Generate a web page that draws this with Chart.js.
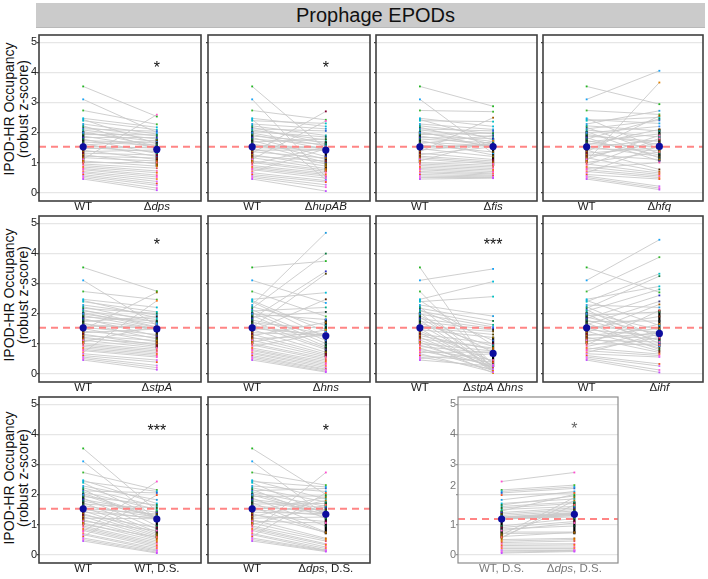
<!DOCTYPE html>
<html>
<head>
<meta charset="utf-8">
<script src="https://cdn.jsdelivr.net/npm/chart.js@4.4.1/dist/chart.umd.min.js"></script>
<style>
  body { margin: 0; background: #fff; width: 708px; height: 579px; position: relative; overflow: hidden;
         font-family: "Liberation Sans", Arial, sans-serif; }
  #banner { position: absolute; left: 36px; top: 3px; width: 669px; height: 24px; background: #cbcbcb;
            border-bottom: 1px solid #b9b9b9; text-align: center; font-size: 20px; line-height: 25px;
            color: #111; text-indent: 10px; }
  .ytitle { position: absolute; left: 16px; width: 0; height: 0; }
  .ytitle div { position: absolute; transform: translate(-50%, -50%) rotate(-90deg); white-space: nowrap;
                text-align: center; font-size: 14px; line-height: 14px; color: #111; }
  canvas { position: absolute; }
</style>
</head>
<body>
<div id="banner">Prophage EPODs</div>
<div class="ytitle" style="top:109px"><div>IPOD-HR Occupancy<br>(robust z-score)</div></div>
<div class="ytitle" style="top:295px"><div>IPOD-HR Occupancy<br>(robust z-score)</div></div>
<div class="ytitle" style="top:478px"><div>IPOD-HR Occupancy<br>(robust z-score)</div></div>

<script>
// valores por locus (mismo orden en todas las series)
const wt = [3.53, 3.10, 2.73, 2.47, 2.43, 2.39, 2.28, 2.22, 2.17, 2.12, 2.08, 2.03, 1.98, 1.93, 1.88, 1.83, 1.78, 1.73, 1.68, 1.63, 1.58, 1.54,
            1.50, 1.46, 1.41, 1.36, 1.31, 1.26, 1.21, 1.16, 1.11, 1.05, 1.00, 0.95, 0.90, 0.85, 0.80, 0.76, 0.70, 0.66, 0.60, 0.55, 0.50, 0.45];
const dps = [2.53, 2.00, 2.27, 2.17, 1.62, 2.09, 1.95, 1.45, 1.88, 2.04, 1.78, 1.55, 1.70, 1.92, 1.50, 1.83, 1.30, 1.65, 1.58, 1.20, 1.74, 1.48,
             1.36, 1.52, 1.10, 1.42, 1.25, 0.95, 1.15, 1.05, 2.59, 0.88, 1.00, 0.81, 0.72, 0.66, 0.58, 0.52, 0.45, 0.37, 0.30, 0.24, 0.15, 0.08];
const hupAB = [1.45, 0.52, 2.42, 2.20, 0.43, 2.30, 2.12, 1.90, 1.62, 2.05, 1.75, 1.85, 1.55, 1.44, 1.68, 1.20, 1.60, 1.10, 1.78, 1.00, 1.50, 1.48,
               1.42, 0.95, 1.41, 1.15, 2.70, 0.88, 1.05, 0.80, 2.38, 0.75, 0.70, 1.52, 0.65, 0.60, 0.55, 0.48, 1.46, 0.40, 0.35, 0.26, 0.18, 0.05];
const fis = [2.87, 1.30, 2.69, 2.20, 1.75, 2.36, 2.10, 1.95, 1.60, 2.05, 1.85, 1.50, 1.70, 1.98, 1.54, 1.80, 1.65, 1.25, 1.55, 1.90, 1.35, 1.58,
             1.56, 1.20, 1.62, 2.49, 1.10, 1.52, 1.05, 1.00, 0.95, 1.72, 0.90, 0.85, 0.80, 0.75, 0.70, 0.65, 0.62, 0.58, 0.55, 0.52, 0.50, 0.48];
const hfq = [2.94, 4.05, 2.60, 1.45, 2.30, 2.50, 2.72, 2.05, 1.30, 2.40, 1.85, 1.15, 2.20, 1.60, 1.70, 1.05, 2.45, 1.25, 1.95, 1.52, 2.10, 1.20,
             1.75, 1.40, 0.77, 2.55, 1.50, 1.10, 1.65, 0.70, 1.90, 3.66, 1.35, 0.65, 1.80, 0.60, 1.00, 0.55, 0.50, 1.55, 0.45, 0.21, 0.15, 0.10];
const stpA = [2.74, 1.60, 2.46, 2.20, 1.85, 2.05, 1.95, 1.70, 2.00, 1.55, 1.80, 1.53, 1.65, 1.49, 1.75, 1.25, 1.50, 1.90, 1.15, 1.51, 1.52, 1.30,
              1.05, 2.70, 1.20, 1.48, 0.95, 1.10, 0.90, 1.00, 0.85, 1.58, 0.80, 0.75, 0.70, 0.65, 0.60, 0.55, 2.42, 0.45, 0.38, 0.27, 0.20, 0.13];
const hns = [3.74, 2.35, 1.90, 2.69, 1.40, 1.20, 4.68, 1.60, 3.99, 1.10, 2.20, 1.00, 1.80, 0.90, 2.05, 3.40, 1.30, 0.85, 1.50, 0.80, 1.25, 3.32,
             1.28, 0.71, 2.47, 1.27, 0.65, 1.70, 0.60, 1.26, 0.55, 1.45, 0.50, 0.45, 1.35, 0.40, 0.35, 0.30, 0.25, 0.20, 0.15, 0.12, 0.08, 0.05];
const stpAhns = [0.05, 3.48, 0.30, 3.06, 0.95, 2.56, 1.91, 0.20, 1.75, 1.10, 1.62, 0.10, 1.55, 0.70, 0.35, 1.50, 0.15, 1.45, 0.90, 0.25, 1.40, 1.30,
                 0.08, 1.20, 0.40, 0.12, 1.00, 0.80, 0.18, 0.85, 0.30, 0.02, 0.75, 0.22, 0.68, 0.10, 0.45, 0.28, 0.72, 0.05, 0.38, 0.15, 0.66, 0.25];
const ihf = [2.70, 4.45, 3.87, 2.90, 1.60, 3.32, 2.20, 1.20, 3.24, 1.00, 2.80, 1.45, 0.90, 2.05, 1.30, 2.60, 1.10, 1.75, 0.80, 2.40, 1.38, 0.85,
             1.90, 1.25, 0.75, 2.30, 1.15, 1.50, 0.70, 1.35, 1.05, 1.65, 0.95, 2.10, 1.40, 0.65, 1.20, 0.60, 1.32, 0.55, 0.32, 0.25, 0.12, 0.04];
const wtDS = [1.45, 1.17, 2.15, 1.70, 2.10, 1.20, 1.82, 1.60, 0.95, 2.05, 1.50, 1.25, 1.21, 1.65, 0.85, 1.40, 1.30, 0.75, 1.55, 1.24, 0.70, 1.35,
              1.19, 0.65, 1.22, 0.60, 0.90, 0.55, 1.19, 0.50, 0.80, 0.45, 0.58, 0.40, 0.35, 0.30, 0.25, 2.43, 0.20, 0.15, 1.98, 0.12, 0.08, 0.05];
const dpsDS = [2.00, 1.30, 2.31, 1.85, 2.25, 1.35, 2.10, 1.75, 1.20, 2.20, 1.60, 1.40, 1.33, 1.95, 0.95, 1.55, 1.45, 0.75, 1.70, 1.38, 0.72, 1.50,
               1.30, 1.90, 1.36, 0.74, 1.10, 1.80, 1.25, 0.54, 1.05, 0.50, 1.65, 0.45, 0.36, 0.32, 0.25, 2.73, 0.20, 0.15, 2.05, 0.14, 0.12, 0.10];

// etiquetas (segmentos [texto, cursiva])
const lblWT = [['WT', 0]];
const lblWTDS = [['WT, D.S.', 0]];
const mutLabels = [
  [['Δ', 0], ['dps', 1]], [['Δ', 0], ['hupAB', 1]], [['Δ', 0], ['fis', 1]], [['Δ', 0], ['hfq', 1]],
  [['Δ', 0], ['stpA', 1]], [['Δ', 0], ['hns', 1]], [['Δ', 0], ['stpA', 1], [' Δ', 0], ['hns', 1]], [['Δ', 0], ['ihf', 1]],
  [['WT, D.S.', 0]], [['Δ', 0], ['dps', 1], [', D.S.', 0]], [['Δ', 0], ['dps', 1], [', D.S.', 0]]
];
const sigText = ['*', '*', '', '', '*', '', '***', '', '***', '*', '*'];
const sigY = [4.27, 4.27, 0, 0, 4.42, 0, 4.42, 0, 4.25, 4.25, 4.31];

const yTicks = [0, 1, 2, 3, 4, 5];
const yTickText = ['0', '1', '2', '3', '4', '5'];
const dsLabelAt = [0, 1, 2.28, 3, 4, 5];   // posición de las etiquetas del último panel

// colores de los loci
const locusColors = ['#22b522', '#1aa3f5', '#3cb832', '#00bcd8', '#12a8e0', '#00c2c2', '#1f9de0', '#00a39a', '#0b7a40', '#2a60d0', '#00b08a',
  '#106060', '#2b8cff', '#15803d', '#0a3a2a', '#3030c0', '#008060', '#202020', '#1a5f1a', '#404080', '#6a4a00', '#504000', '#7a2a10',
  '#8a6a00', '#5a2000', '#a05a00', '#800030', '#b07000', '#902020', '#c06000', '#ff5fc8', '#e08000', '#ff6060', '#e05050', '#ff70c0',
  '#f07010', '#ff50a0', '#ff4fd0', '#ff8030', '#e060ff', '#f05020', '#d070ff', '#ff60e0', '#c050ff'];

const FONT = '"Liberation Sans", Arial, sans-serif';

const panels = [
  { a: wt, b: dps, x: 39, y: 35, w: 164, axis: true },
  { a: wt, b: hupAB, x: 208, y: 35, w: 164 },
  { a: wt, b: fis, x: 376, y: 35, w: 163 },
  { a: wt, b: hfq, x: 543, y: 35, w: 162 },
  { a: wt, b: stpA, x: 39, y: 216, w: 164, axis: true },
  { a: wt, b: hns, x: 208, y: 216, w: 164 },
  { a: wt, b: stpAhns, x: 376, y: 216, w: 163 },
  { a: wt, b: ihf, x: 543, y: 216, w: 162 },
  { a: wt, b: wtDS, x: 39, y: 397, w: 164, axis: true },
  { a: wt, b: dpsDS, x: 208, y: 397, w: 164 },
  { a: wtDS, b: dpsDS, x: 458, y: 397, w: 162, axis: true, ds: true }
];

const quantile = (arr, p) => {
  const s = [...arr].sort((m, n) => m - n);
  const pos = (s.length - 1) * p;
  const lo = Math.floor(pos);
  const hi = Math.min(lo + 1, s.length - 1);
  return s[lo] + (s[hi] - s[lo]) * (pos - lo);
};

const drawParts = (ctx, parts, cx, top, size) => {
  const fontOf = it => (it ? 'italic ' : '') + size + 'px ' + FONT;
  let total = 0;
  parts.forEach(([t, it]) => { ctx.font = fontOf(it); total += ctx.measureText(t).width; });
  let xx = cx - total / 2;
  ctx.textAlign = 'left';
  ctx.textBaseline = 'top';
  parts.forEach(([t, it]) => { ctx.font = fontOf(it); ctx.fillText(t, xx, top); xx += ctx.measureText(t).width; });
};

// marco, etiquetas del eje x y asteriscos
const decoPlugin = {
  id: 'deco',
  afterDatasetsDraw(chart, args, o) {
    const { ctx, chartArea: a, scales: { x, y } } = chart;
    ctx.save();
    ctx.strokeStyle = o.frame;
    ctx.lineWidth = o.frameW;
    ctx.strokeRect(a.left, a.top, a.right - a.left, a.bottom - a.top);
    ctx.fillStyle = o.textColor;
    o.labels.forEach((parts, i) => drawParts(ctx, parts, x.getPixelForValue(i + 1), a.bottom + 0.5, 11.5));
    if (o.sig) {
      ctx.font = '16px ' + FONT;
      ctx.textAlign = 'center';
      ctx.textBaseline = 'alphabetic';
      ctx.fillStyle = o.sigColor;
      ctx.fillText(o.sig, x.getPixelForValue(2), y.getPixelForValue(o.sigY) + 9);
    }
    ctx.restore();
  }
};

const crearPanel = (p, k) => {
  const axisW = p.axis ? (p.ds ? 22 : 39) : 4;
  const padT = 12, padR = 2, xH = 18, h = 166;
  const W = axisW + p.w + padR, H = padT + h + xH;
  const canvas = document.createElement('canvas');
  canvas.width = W; canvas.height = H;
  canvas.style.width = W + 'px'; canvas.style.height = H + 'px';
  canvas.style.left = (p.x - axisW) + 'px'; canvas.style.top = (p.y - padT) + 'px';
  document.body.appendChild(canvas);

  const medA = quantile(p.a, 0.5), medB = quantile(p.b, 0.5);
  const datasets = [];
  // medianas
  datasets.push({ data: [{ x: 1, y: medA }, { x: 2, y: medB }], showLine: false, pointRadius: 3.6,
                  pointBackgroundColor: '#0d0d9e', pointBorderWidth: 0 });
  // línea de referencia
  datasets.push({ data: [{ x: 0.4, y: medA }, { x: 2.6, y: medA }], borderColor: '#ff8585', borderWidth: 2,
                  borderDash: [7, 5], pointRadius: 0 });
  // puntos por locus
  datasets.push({ data: p.a.map(v => ({ x: 1, y: v })).concat(p.b.map(v => ({ x: 2, y: v }))), showLine: false,
                  pointStyle: 'rect', pointRadius: 1.3, pointBorderWidth: 0,
                  pointBackgroundColor: locusColors.concat(locusColors) });
  // barras de error (rango intercuartil)
  [[1, p.a], [2, p.b]].forEach(([xv, arr]) => {
    datasets.push({ data: [{ x: xv, y: quantile(arr, 0.25) }, { x: xv, y: quantile(arr, 0.75) }],
                    borderColor: '#000', borderWidth: 2.2, pointRadius: 0 });
  });
  // pares WT -> mutante
  p.a.forEach((v, i) => {
    datasets.push({ data: [{ x: 1, y: v }, { x: 2, y: p.b[i] }], borderColor: '#c9c9c9', borderWidth: 0.9, pointRadius: 0 });
  });

  const tickVals = p.ds ? [...new Set(yTicks.concat(dsLabelAt))].sort((m, n) => m - n) : yTicks;
  const labelAt = p.ds ? dsLabelAt : yTicks;
  const textColor = p.ds ? '#7a7a7a' : '#222';

  const chart = new Chart(canvas, {
    type: 'line',
    data: { datasets },
    plugins: [decoPlugin],
    options: {
      responsive: false,
      animation: false,
      devicePixelRatio: 1,
      layout: { padding: { top: padT, right: padR, left: 0, bottom: 0 } },
      plugins: {
        legend: { display: false },
        tooltip: { enabled: false },
        deco: {
          frame: p.ds ? '#8c8c8c' : '#404040', frameW: p.ds ? 1.2 : 1.6,
          labels: [p.ds ? lblWTDS : lblWT, mutLabels[k]],
          textColor, sig: sigText[k], sigY: sigY[k], sigColor: p.ds ? '#666' : '#111'
        }
      },
      scales: {
        x: {
          type: 'linear', min: 0.4, max: 2.6,
          grid: { display: false }, border: { display: false }, ticks: { display: false },
          afterFit: s => { s.height = xH; }
        },
        y: {
          type: 'linear', min: -0.28, max: 5.24,
          afterBuildTicks: s => { s.ticks = tickVals.map(v => ({ value: v })); },
          afterFit: s => { s.width = axisW; },
          border: { display: false },
          grid: {
            color: c => (yTicks.includes(c.tick.value) ? '#e6e6e6' : 'rgba(0,0,0,0)'),
            tickColor: c => (yTicks.includes(c.tick.value) ? (p.ds ? '#999' : '#444') : 'rgba(0,0,0,0)'),
            lineWidth: 1.3, drawTicks: true, tickLength: 2
          },
          ticks: {
            display: !!p.axis, autoSkip: false, padding: 0, color: textColor,
            font: { family: FONT, size: 11 },
            callback: v => { const i = labelAt.indexOf(v); return i >= 0 ? yTickText[i] : ''; }
          }
        }
      }
    }
  });
  // alinear el área del gráfico con el marco del panel
  canvas.style.left = (p.x - chart.chartArea.left) + 'px';
  canvas.style.top = (p.y - chart.chartArea.top) + 'px';
};

panels.forEach(crearPanel);
</script>
</body>
</html>
